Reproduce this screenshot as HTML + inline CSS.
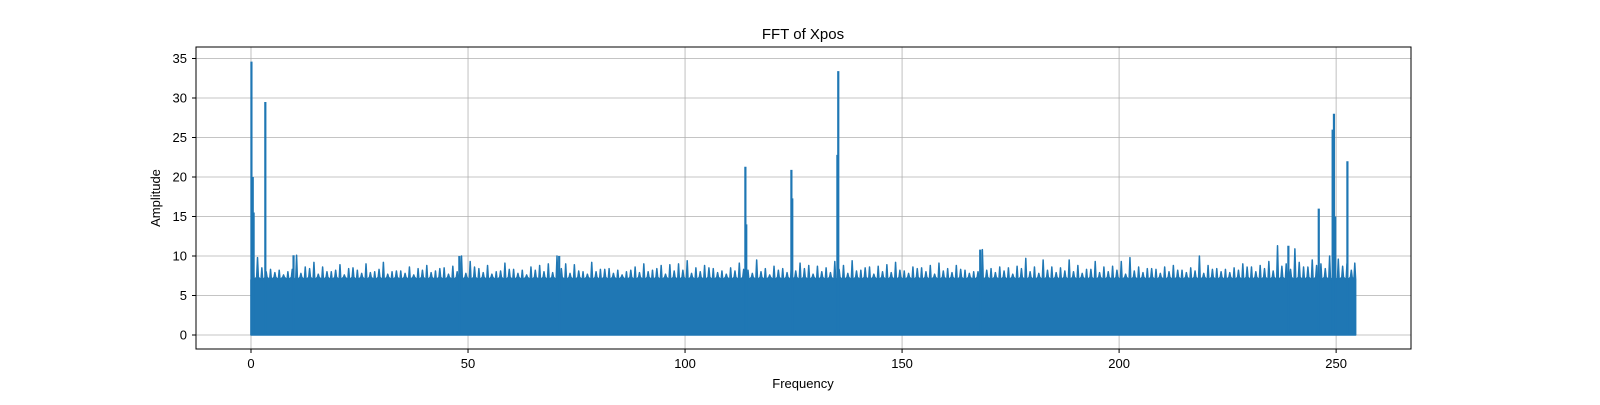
<!DOCTYPE html>
<html><head><meta charset="utf-8"><style>
body{margin:0;background:#fff;width:1600px;height:400px;overflow:hidden}
text{font-family:"Liberation Sans","DejaVu Sans",sans-serif;fill:#000}
</style></head><body>
<svg id="chart" width="1600" height="400" xmlns="http://www.w3.org/2000/svg">
<rect x="0" y="0" width="1600" height="400" fill="#fff"/>
<g id="grid"></g>
<g id="series"></g>
<rect x="196" y="47" width="1215" height="302" fill="none" stroke="#000" stroke-width="1"/>
<g id="ticks"></g>
<text x="803" y="39" text-anchor="middle" font-size="15">FFT of Xpos</text>
<text x="803" y="388" text-anchor="middle" font-size="13">Frequency</text>
<text x="160" y="198" text-anchor="middle" font-size="13" transform="rotate(-90 160 198)">Amplitude</text>
</svg>
<script>
const xTicks=[0,50,100,150,200,250];
const yTicks=[0,5,10,15,20,25,30,35];
// envelope peak amplitude at even frequency units (0..254)
const envFreq=[];for(let f=0;f<=254;f+=2)envFreq.push(f);
const envAmp=[10,8.5,8.3,8.2,8.0,10.1,8.6,9.2,8.6,8.0,8.9,8.4,8.2,9.0,8.0,9.2,8.0,8.1,8.6,8.4,8.8,8.1,8.5,8.7,10.0,9.3,8.4,8.8,8.0,9.1,8.3,8.2,8.6,8.8,9.0,10.0,9.0,8.9,8.0,9.2,8.3,8.4,8.2,8.0,8.6,9.0,8.2,8.8,8.9,9.0,9.4,8.5,8.8,8.4,8.1,8.5,9.1,8.2,9.5,8.4,8.7,8.4,8.6,9.1,8.8,8.7,8.5,9.3,8.8,9.4,8.2,8.6,8.7,8.9,9.2,8.1,8.6,8.5,8.8,9.1,8.4,8.8,8.2,8.0,10.8,8.4,8.6,8.5,8.7,9.7,8.6,9.5,8.6,8.5,9.5,8.8,8.3,9.3,8.6,8.7,9.3,9.8,8.6,8.4,8.3,8.6,8.8,8.2,8.5,10.0,8.8,8.4,8.3,8.5,9.0,8.6,8.8,9.3,11.3,9.0,10.9,8.6,9.5,9.0,10.0,9.6,9.0,9.1];
// secondary peaks at odd frequency units
const envAmp2=[9.8,8.0,7.9,7.6,8.3,7.8,8.4,7.7,8.0,8.2,7.6,8.5,7.8,7.9,8.3,7.7,8.1,7.8,7.6,8.2,7.9,8.4,7.7,8.0,7.8,8.6,7.9,7.7,8.1,8.3,7.8,7.6,8.2,8.0,7.9,8.4,7.8,8.1,7.7,8.0,8.3,7.8,7.6,8.2,7.9,8.0,8.4,7.7,8.1,8.2,7.8,8.0,8.5,7.9,7.7,8.1,8.3,7.8,8.0,7.6,8.2,7.9,8.1,8.4,7.7,8.0,7.9,8.3,7.8,8.1,8.5,7.7,8.0,7.9,8.2,7.8,8.4,8.0,7.7,8.1,7.9,8.3,7.8,8.0,8.2,7.9,8.1,7.7,8.4,8.0,7.8,8.2,7.9,8.1,8.0,7.8,8.3,7.9,8.0,8.2,7.7,8.1,7.9,8.4,7.8,8.0,8.2,7.9,8.1,7.8,8.3,8.0,7.9,8.2,8.6,8.0,8.4,8.1,8.7,8.3,9.2,8.6,8.8,8.4,8.0,8.7,8.2];
const spikeFreq=[0.1,0.4,0.6,3.3,113.9,114.1,124.5,124.7,135.1,135.3,246.0,249.2,249.5,249.8,252.6,9.8,48.0,71.0,168.0,239.0];
const spikeAmp=[34.6,20.0,15.5,29.5,21.3,14.0,20.9,17.3,22.8,33.4,16.0,26.0,28.0,15.0,22.0,10.1,10.0,10.0,10.8,11.3];
const baseLevel=7.0, fMax=254.5;
const X=f=>251+f*4.3405, Y=v=>335-v*7.9;
const NS="http://www.w3.org/2000/svg";
const grid=document.getElementById('grid'),ticks=document.getElementById('ticks'),ser=document.getElementById('series');
function mk(p,tag){const e=document.createElementNS(NS,tag);p.appendChild(e);return e;}
xTicks.forEach(t=>{
 const l=mk(grid,'line');l.setAttribute('x1',X(t));l.setAttribute('x2',X(t));l.setAttribute('y1',47);l.setAttribute('y2',349);l.setAttribute('stroke','#b0b0b0');l.setAttribute('stroke-width','0.8');
 
 
 const k=mk(ticks,'line');k.setAttribute('x1',X(t));k.setAttribute('x2',X(t));k.setAttribute('y1',349);k.setAttribute('y2',353);k.setAttribute('stroke','#000');
 
 
 const s=mk(ticks,'text');s.setAttribute('x',X(t));s.setAttribute('y',368);s.setAttribute('text-anchor','middle');s.setAttribute('font-size','13');s.textContent=t;
 
 
});
yTicks.forEach(t=>{
 const l=mk(grid,'line');l.setAttribute('x1',196);l.setAttribute('x2',1411);l.setAttribute('y1',Y(t));l.setAttribute('y2',Y(t));l.setAttribute('stroke','#b0b0b0');l.setAttribute('stroke-width','0.8');
 
 
 const k=mk(ticks,'line');k.setAttribute('x1',192);k.setAttribute('x2',196);k.setAttribute('y1',Y(t));k.setAttribute('y2',Y(t));k.setAttribute('stroke','#000');
 
 
 const s=mk(ticks,'text');s.setAttribute('x',187);s.setAttribute('y',Y(t)+4.5);s.setAttribute('text-anchor','end');s.setAttribute('font-size','13');s.textContent=t;
 
 
});
// filled noise area
let d=`M${X(0)},${Y(0)} L${X(0)},${Y(baseLevel)}`;
envFreq.forEach((f,i)=>{
 const fc=Math.min(f+0.5,fMax-0.2);
 d+=` L${X(fc-0.2)},${Y(baseLevel)} L${X(fc)},${Y(envAmp[i])} L${X(fc+0.2)},${Y(baseLevel)}`;
 if(i<envAmp2.length){
  const fo=Math.min(f+1.5,fMax-0.2);
  d+=` L${X(fo-0.2)},${Y(baseLevel+0.3)} L${X(fo)},${Y(envAmp2[i])} L${X(fo+0.2)},${Y(baseLevel+0.3)}`;
 }
});
d+=` L${X(fMax)},${Y(baseLevel)} L${X(fMax)},${Y(0)} Z`;
const area=mk(ser,'path');area.setAttribute('d',d);area.setAttribute('fill','#1f77b4');area.setAttribute('stroke','#1f77b4');area.setAttribute('stroke-width','1.5');area.setAttribute('stroke-linejoin','round');


spikeFreq.forEach((f,i)=>{
 const l=mk(ser,'line');l.setAttribute('x1',X(f));l.setAttribute('x2',X(f));l.setAttribute('y1',Y(0));l.setAttribute('y2',Y(spikeAmp[i]));l.setAttribute('stroke','#1f77b4');l.setAttribute('stroke-width','2.2');
 
 
});
</script>
</body></html>
